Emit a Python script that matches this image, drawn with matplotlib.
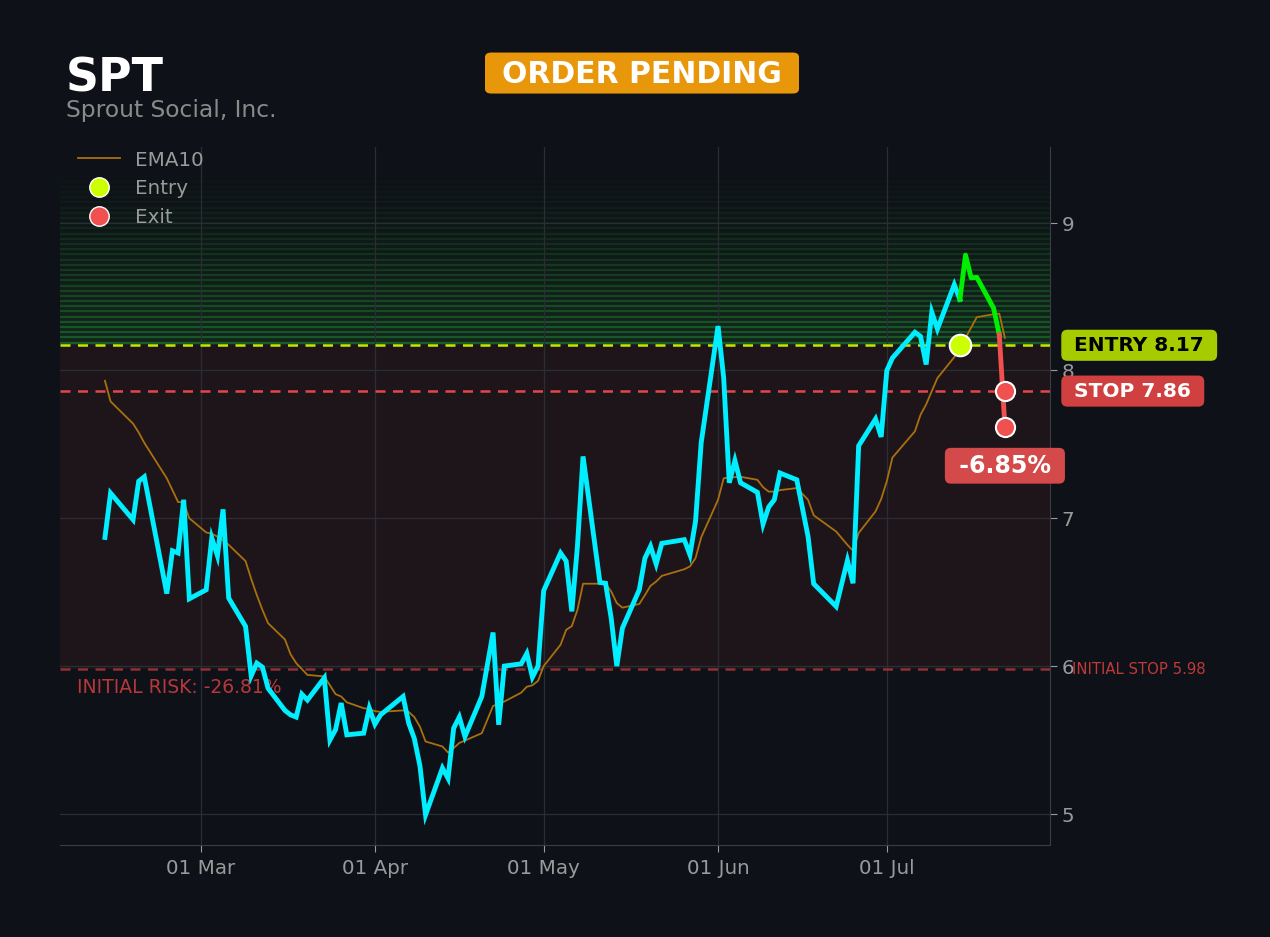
import numpy as np
import pandas as pd
import matplotlib
matplotlib.use("Agg")
import matplotlib.pyplot as plt
import matplotlib.dates as mdates
from matplotlib.lines import Line2D
from matplotlib.patches import FancyBboxPatch
from matplotlib.transforms import blended_transform_factory

# --- data ---
dates = [
    "2025-02-12", "2025-02-13", "2025-02-17", "2025-02-18", "2025-02-19",
    "2025-02-23", "2025-02-24", "2025-02-25", "2025-02-26", "2025-02-27",
    "2025-03-02", "2025-03-03", "2025-03-04", "2025-03-05", "2025-03-06",
    "2025-03-09", "2025-03-10", "2025-03-11", "2025-03-12", "2025-03-13",
    "2025-03-16", "2025-03-17", "2025-03-18", "2025-03-19", "2025-03-20",
    "2025-03-23", "2025-03-24", "2025-03-25", "2025-03-26", "2025-03-27",
    "2025-03-30", "2025-03-31", "2025-04-01", "2025-04-02", "2025-04-06",
    "2025-04-07", "2025-04-08", "2025-04-09", "2025-04-10", "2025-04-13",
    "2025-04-14", "2025-04-15", "2025-04-16", "2025-04-17", "2025-04-20",
    "2025-04-22", "2025-04-23", "2025-04-24", "2025-04-27", "2025-04-28",
    "2025-04-29", "2025-04-30", "2025-05-01", "2025-05-04", "2025-05-05",
    "2025-05-06", "2025-05-07", "2025-05-08", "2025-05-11", "2025-05-12",
    "2025-05-13", "2025-05-14", "2025-05-15", "2025-05-18", "2025-05-19",
    "2025-05-20", "2025-05-21", "2025-05-22", "2025-05-26", "2025-05-27",
    "2025-05-28", "2025-05-29", "2025-06-01", "2025-06-02", "2025-06-03",
    "2025-06-04", "2025-06-05", "2025-06-08", "2025-06-09", "2025-06-10",
    "2025-06-11", "2025-06-12", "2025-06-15", "2025-06-17", "2025-06-18",
    "2025-06-22", "2025-06-24", "2025-06-25", "2025-06-26", "2025-06-29",
    "2025-06-30", "2025-07-01", "2025-07-02", "2025-07-06", "2025-07-07",
    "2025-07-08", "2025-07-09", "2025-07-10", "2025-07-13", "2025-07-14",
    "2025-07-15", "2025-07-16", "2025-07-17", "2025-07-20", "2025-07-21",
    "2025-07-22",
]
close = [
    6.87, 7.17, 6.99, 7.25, 7.28, 6.49, 6.78, 6.765, 7.125, 6.455,
    6.516, 6.866, 6.746, 7.06, 6.46, 6.268, 5.934, 6.02, 5.993, 5.85,
    5.70, 5.67, 5.655, 5.81, 5.77, 5.92, 5.50, 5.57, 5.75, 5.535,
    5.546, 5.715, 5.607, 5.67, 5.794, 5.614, 5.51, 5.325, 4.993, 5.31,
    5.24, 5.58, 5.655, 5.523, 5.794, 6.227, 5.603, 6.0, 6.015, 6.085,
    5.925, 6.0, 6.51, 6.765, 6.71, 6.37, 6.81, 7.418, 6.566, 6.56,
    6.325, 6.0, 6.257, 6.516, 6.73, 6.81, 6.69, 6.83, 6.855, 6.753,
    6.98, 7.51, 8.30, 7.95, 7.24, 7.39, 7.24, 7.175, 6.96, 7.076,
    7.125, 7.306, 7.26, 6.877, 6.557, 6.403, 6.714, 6.56, 7.49, 7.671,
    7.55, 7.998, 8.084, 8.258, 8.23, 8.04, 8.393, 8.28, 8.58, 8.48,
    8.78, 8.626, 8.63, 8.42, 8.24, 7.62,
]
ema10 = [
    7.93, 7.79, 7.64, 7.58, 7.51, 7.27, 7.19, 7.11, 7.107, 7.00,
    6.904, 6.896, 6.875, 6.85, 6.82, 6.71, 6.59, 6.48, 6.38, 6.29,
    6.18, 6.08, 6.02, 5.98, 5.94, 5.93, 5.87, 5.81, 5.794, 5.755,
    5.715, 5.71, 5.695, 5.69, 5.70, 5.69, 5.655, 5.59, 5.49, 5.456,
    5.415, 5.445, 5.48, 5.496, 5.546, 5.73, 5.745, 5.76, 5.82, 5.86,
    5.87, 5.90, 6.0, 6.144, 6.245, 6.27, 6.38, 6.557, 6.557, 6.557,
    6.505, 6.426, 6.395, 6.42, 6.48, 6.543, 6.572, 6.61, 6.655, 6.674,
    6.73, 6.87, 7.125, 7.27, 7.276, 7.278, 7.28, 7.26, 7.21, 7.18,
    7.18, 7.19, 7.204, 7.125, 7.02, 6.91, 6.82, 6.78, 6.90, 7.046,
    7.13, 7.25, 7.41, 7.588, 7.70, 7.77, 7.86, 7.948, 8.09, 8.15,
    8.22, 8.29, 8.36, 8.38, 8.384, 8.22,
]

ticker = "SPT"
company = "Sprout Social, Inc."
entry_price = 8.17
stop_price = 7.86
initial_stop = 5.98
target_top = 9.33
entry_date = "2025-07-14"
exit_date = "2025-07-22"
exit_prices = [7.86, 7.62]
trade_pct = "-6.85%"
initial_risk = "INITIAL RISK: -26.81%"

bg = "#0e1117"
dates = pd.to_datetime(dates)
i_entry = list(dates).index(pd.Timestamp(entry_date))
i_green_end = len(dates) - 2

fig = plt.figure(figsize=(12.7, 9.375), dpi=100, facecolor=bg)
ax = fig.add_axes([0.0472, 0.0982, 0.7795, 0.7449])
ax.set_facecolor(bg)

# risk zone between initial stop and entry
ax.axhspan(initial_stop, entry_price, color="#e04848", alpha=0.08, lw=0, zorder=0)

# striped green zone above entry, fading upward
levels = np.linspace(entry_price, target_top, 34)
step = levels[1] - levels[0]
for i, lv in enumerate(levels[:-1]):
    a = 0.32 * (1 - i / len(levels)) ** 1.2
    ax.axhspan(lv, lv + step, color="#2ecc40", alpha=a * 0.35, lw=0, zorder=0)
    ax.axhline(lv + step * 0.5, color="#2ecc40", alpha=a, lw=1.6, zorder=0)

ax.grid(True, color="#2a2d33", lw=0.9, zorder=1)
ax.set_axisbelow(True)

ax.axhline(entry_price, color="#c8e600", ls=(0, (4, 3)), lw=1.8, zorder=3)
ax.axhline(stop_price, color="#e04848", ls=(0, (4, 3)), lw=1.8, zorder=3)
ax.axhline(initial_stop, color="#8e3035", ls=(0, (4, 3)), lw=1.8, zorder=3)

ax.plot(dates, ema10, color="#a8700f", lw=1.3, zorder=4, label="EMA10")
ax.plot(dates[:i_entry + 1], close[:i_entry + 1], color="#00eeff", lw=3.5,
        zorder=5, solid_joinstyle="miter")
ax.plot(dates[i_entry:i_green_end + 1], close[i_entry:i_green_end + 1],
        color="#00ee00", lw=3.5, zorder=5)
ax.plot(dates[i_green_end:], close[i_green_end:], color="#f05050", lw=3.5,
        zorder=5)

ax.scatter([pd.Timestamp(entry_date)], [entry_price], s=240, color="#ccff00",
           edgecolor="white", lw=1.5, zorder=7)
ax.scatter([pd.Timestamp(exit_date)] * 2, exit_prices, s=190, color="#f05050",
           edgecolor="white", lw=1.5, zorder=7)

ax.set_ylim(4.79, 9.514)
ax.set_xlim(pd.Timestamp("2025-02-04"), pd.Timestamp("2025-07-30"))
ax.set_yticks([5, 6, 7, 8, 9])
ax.yaxis.tick_right()
ax.xaxis.set_major_locator(mdates.MonthLocator(bymonth=[3, 4, 5, 6, 7]))
ax.xaxis.set_major_formatter(mdates.DateFormatter("%d %b"))
ax.tick_params(colors="#9a9a9a", labelsize=14.3, length=5, color="#9a9a9a")
ax.tick_params(axis="x", pad=5)
for s in ["left", "top"]:
    ax.spines[s].set_visible(False)
for s in ["right", "bottom"]:
    ax.spines[s].set_color("#3a3d42")

# labels on the right
tr = blended_transform_factory(ax.transAxes, ax.transData)
ax.text(1.0176, entry_price, f" ENTRY {entry_price:.2f} ", transform=tr,
        ha="left", va="center", fontsize=14.5, fontweight="bold", color="black",
        bbox=dict(boxstyle="round,pad=0.3", fc="#a6cc00", ec="none"))
ax.text(1.0176, stop_price, f" STOP {stop_price:.2f} ", transform=tr,
        ha="left", va="center", fontsize=14.5, fontweight="bold", color="white",
        bbox=dict(boxstyle="round,pad=0.3", fc="#d04040", ec="none"))
ax.text(1.022, initial_stop, f"INITIAL STOP {initial_stop:.2f}", transform=tr,
        ha="left", va="center", fontsize=10.7, color="#c03a3a")
ax.text(0.017, initial_stop - 0.12, initial_risk, transform=tr, ha="left",
        va="center", fontsize=13.5, color="#b8383a")
ax.text(pd.Timestamp(exit_date), 7.355, f" {trade_pct} ", ha="center",
        va="center", fontsize=17, fontweight="bold", color="white", zorder=8,
        bbox=dict(boxstyle="round,pad=0.25", fc="#d44a4a", ec="none"))

handles = [
    Line2D([], [], color="#a8700f", lw=1.3),
    Line2D([], [], marker="o", ls="none", markersize=14,
           markerfacecolor="#ccff00", markeredgecolor="white"),
    Line2D([], [], marker="o", ls="none", markersize=14,
           markerfacecolor="#f05050", markeredgecolor="white"),
]
ax.legend(handles, ["EMA10", "Entry", "Exit"], loc="upper left",
          frameon=False, fontsize=14.3, labelcolor="#9a9a9a",
          bbox_to_anchor=(0.004, 1.015), borderaxespad=0.3, handlelength=2.1,
          handletextpad=0.8, labelspacing=0.5)

# header
fig.text(0.052, 0.916, ticker, fontsize=33, fontweight="bold", color="white",
         va="center", ha="left")
fig.text(0.052, 0.882, company, fontsize=16.8, color="#8a8a8a",
         va="center", ha="left")
fig.patches.append(FancyBboxPatch(
    (485 / 1270, 1 - 94 / 937), 314 / 1270, 41 / 937,
    boxstyle="round,pad=0,rounding_size=0.005", transform=fig.transFigure,
    fc="#e8960a", ec="none"))
fig.text(642 / 1270, 1 - 74 / 937, "ORDER PENDING", fontsize=21.5,
         fontweight="bold", color="white", ha="center", va="center")

fig.savefig("out.png", dpi=100, facecolor=bg)
